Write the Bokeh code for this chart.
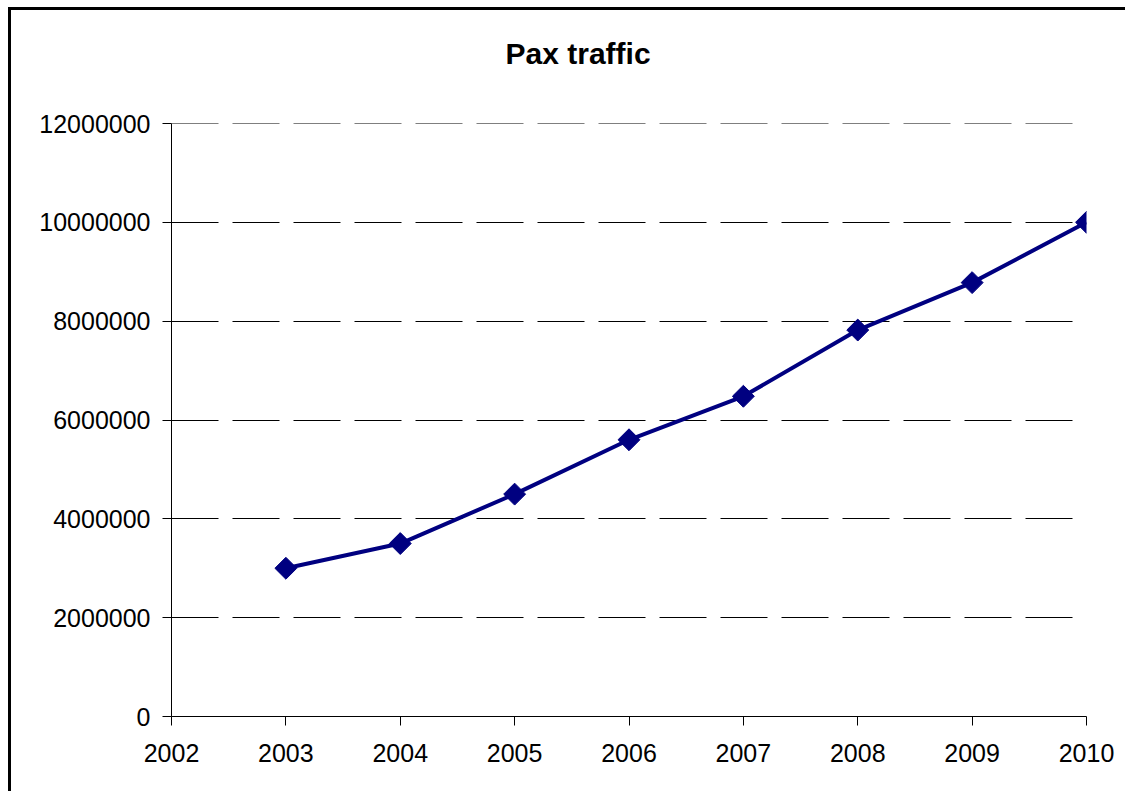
import numpy as np
from bokeh.plotting import figure
from bokeh.models import FixedTicker, Range1d, BasicTickFormatter, Title
from bokeh.embed import file_html
from bokeh.resources import INLINE

# Annual passenger traffic
years = [2003, 2004, 2005, 2006, 2007, 2008, 2009, 2010]
passengers = [3000000, 3500000, 4500000, 5600000, 6480000, 7820000, 8780000, 10000000]

year_ticks = [2002, 2003, 2004, 2005, 2006, 2007, 2008, 2009, 2010]
pax_ticks = [0, 2000000, 4000000, 6000000, 8000000, 10000000, 12000000]
title_text = "Pax traffic"

NAVY = "#000080"
FONT = "Liberation Sans"

p = figure(
    width=1117, height=784,
    output_backend="svg", toolbar_location=None,
    # a hair above the top tick so its grid line is still drawn
    x_range=Range1d(2002, 2010), y_range=Range1d(0, 12000001),
    min_border_left=160, min_border_right=42,
    min_border_top=113, min_border_bottom=78,
    background_fill_color="white", border_fill_color="white",
)
p.outline_line_color = None
p.styles = {
    "margin-left": "8px",
    "margin-top": "7px",
    "border-left": "3px solid black",
    "border-top": "3px solid black",
}

# blank strip between the plot frame and the heading
p.add_layout(Title(text=" ", text_font_size="1px", standoff=46), "above")

# heading, centred over the whole chart rather than the plot frame
p.add_layout(Title(
    text=title_text, align="left", offset=334, standoff=10,
    text_font=FONT, text_font_size="30px", text_font_style="bold",
    text_color="black",
), "above")

# axes
for ax in (p.xaxis, p.yaxis):
    ax.axis_line_color = "black"
    ax.axis_line_width = 1
    ax.major_tick_line_color = "black"
    ax.major_tick_out = 9
    ax.major_tick_in = 0
    ax.minor_tick_line_color = None
    ax.major_label_text_font = FONT
    ax.major_label_text_font_size = "25px"
    ax.major_label_text_color = "black"

p.xaxis.ticker = FixedTicker(ticks=year_ticks)
p.yaxis.ticker = FixedTicker(ticks=pax_ticks)
p.yaxis.formatter = BasicTickFormatter(use_scientific=False)
p.xaxis.major_label_standoff = 18
p.yaxis.major_label_standoff = 12

# grid
p.xgrid.grid_line_color = None
p.ygrid.grid_line_color = "black"
p.ygrid.grid_line_width = 1
p.ygrid.grid_line_dash = "47 14"

# series
p.line(years, passengers, line_color=NAVY, line_width=4)
p.scatter(years, passengers, marker="square", angle=np.pi / 4, size=15.5,
          fill_color=NAVY, line_color=NAVY)

open("out.html", "w").write(file_html(p, INLINE))
